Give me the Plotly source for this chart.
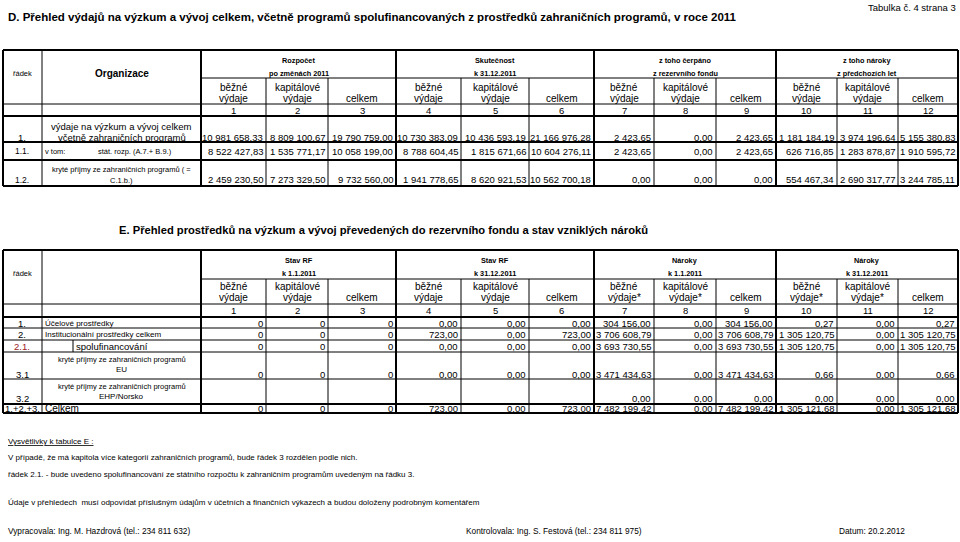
import plotly.graph_objects as go

# ---------------- data ----------------
title_d = ("D. Přehled výdajů na výzkum a vývoj celkem, včetně programů spolufinancovaných "
           "z prostředků zahraničních programů, v roce 2011")
page_label = "Tabulka č. 4 strana 3"
title_e = ("E. Přehled prostředků na výzkum a vývoj převedených do rezervního fondu "
           "a stav vzniklých nároků")

d_groups = [("Rozpočet", "po změnách 2011"), ("Skutečnost", "k 31.12.2011"),
            ("z toho čerpáno", "z rezervního fondu"), ("z toho nároky", "z předchozích let")]
e_groups = [("Stav RF", "k 1.1.2011"), ("Stav RF", "k 31.12.2011"),
            ("Nároky", "k 1.1.2011"), ("Nároky", "k 31.12.2011")]
d_sub = [("běžné", "výdaje"), ("kapitálové", "výdaje"), ("", "celkem")]
e_sub_a = [("běžné", "výdaje"), ("kapitálové", "výdaje"), ("", "celkem")]
e_sub_b = [("běžné", "výdaje*"), ("kapitálové", "výdaje*"), ("", "celkem")]
col_numbers = [str(i) for i in range(1, 13)]

d_row_ids = ["1.", "1.1.", "1.2."]
d_vals_1 = [10981658.33, 8809100.67, 19790759.00, 10730383.09, 10436593.19, 21166976.28,
            2423.65, 0.00, 2423.65, 1181184.19, 3974196.64, 5155380.83]
d_vals_11 = [8522427.83, 1535771.17, 10058199.00, 8788604.45, 1815671.66, 10604276.11,
             2423.65, 0.00, 2423.65, 626716.85, 1283878.87, 1910595.72]
d_vals_12 = [2459230.50, 7273329.50, 9732560.00, 1941778.65, 8620921.53, 10562700.18,
             0.00, 0.00, 0.00, 554467.34, 2690317.77, 3244785.11]

e_row_ids = ["1.", "2.", "2.1.", "3.1", "3.2", "1.+2.+3."]
e_labels = ["Účelové prostředky", "Institucionální prostředky celkem", "spolufinancování",
            "kryté příjmy ze zahraničních programů|EU",
            "kryté příjmy ze zahraničních programů|EHP/Norsko", "Celkem"]
e_vals_1 = [0, 0, 0, 0.00, 0.00, 0.00, 304156.00, 0.00, 304156.00, 0.27, 0.00, 0.27]
e_vals_2 = [0, 0, 0, 723.00, 0.00, 723.00, 3706608.79, 0.00, 3706608.79, 1305120.75, 0.00, 1305120.75]
e_vals_21 = [0, 0, 0, 0.00, 0.00, 0.00, 3693730.55, 0.00, 3693730.55, 1305120.75, 0.00, 1305120.75]
e_vals_31 = [0, 0, 0, 0.00, 0.00, 0.00, 3471434.63, 0.00, 3471434.63, 0.66, 0.00, 0.66]
e_vals_32 = [None, None, None, None, None, None, 0.00, 0.00, 0.00, 0.00, 0.00, 0.00]
e_vals_tot = [0, 0, 0, 723.00, 0.00, 723.00, 7482199.42, 0.00, 7482199.42, 1305121.68, 0.00, 1305121.68]

notes_head = "Vysvětlivky k tabulce E :"
notes = ["V případě, že má kapitola více kategorií zahraničních programů, bude řádek 3 rozdělen podle nich.",
         "řádek 2.1. - bude uvedeno spolufinancování ze státního rozpočtu k zahraničním programům uvedeným na řádku 3."]
note_bottom = "Údaje v přehledech  musí odpovídat příslušným údajům v účetních a finančních výkazech a budou doloženy podrobným komentářem"
sign_1 = "Vypracovala: Ing. M. Hazdrová (tel.: 234 811 632)"
sign_2 = "Kontrolovala: Ing. S. Festová (tel.: 234 811 975)"
sign_3 = "Datum: 20.2.2012"

# ---------------- layout constants ----------------
W, H = 960, 542
FONT = "Liberation Sans, Arial, sans-serif"
COL = [3, 42, 201, 266, 328, 396, 461, 529, 594, 654, 716, 776, 837, 898, 958]
GROUP_EDGES = [201, 396, 594, 776, 958]
THICK, THIN = 2, 1

shapes = []
annots = []


def hline(x0, x1, y, w=THIN):
    shapes.append(dict(type="line", xref="x", yref="y", x0=x0, x1=x1, y0=y, y1=y,
                       line=dict(color="black", width=w)))


def vline(x, y0, y1, w=THIN):
    shapes.append(dict(type="line", xref="x", yref="y", x0=x, x1=x, y0=y0, y1=y1,
                       line=dict(color="black", width=w)))


def text(x, y, s, size=9.5, anchor="center", bold=False, color="black"):
    if bold:
        s = "<b>" + s + "</b>"
    annots.append(dict(x=x, y=y, xref="x", yref="y", text=s, showarrow=False,
                       xanchor=anchor, yanchor="middle", borderpad=0,
                       font=dict(family=FONT, size=size, color=color)))


def fmt(v, dec=2):
    if v is None:
        return ""
    s = f"{v:,.{dec}f}"
    return s.replace(",", " ").replace(".", ",")


def cell_center(i):
    return (COL[i + 2] + COL[i + 3]) / 2


def table_frame(top, grp, sub, num, row_edges, bottom, thick_rows):
    hline(COL[0], COL[-1], top, THICK)
    hline(COL[0], COL[-1], bottom, THICK)
    vline(COL[0], top, bottom, THICK)
    vline(COL[-1], top, bottom, THICK)
    hline(COL[2], COL[-1], grp, THIN)
    hline(COL[0], COL[-1], sub, THIN)
    hline(COL[0], COL[-1], num, THICK)
    for k, y in enumerate(row_edges):
        hline(COL[0], COL[-1], y, THICK if k in thick_rows else THIN)
    vline(COL[1], top, bottom, THIN)
    for x in COL[2:-1]:
        if x in GROUP_EDGES:
            vline(x, top, bottom, THICK)
        else:
            vline(x, grp, bottom, THIN)


def headers(groups, subs_for_group, y_g1, y_g2, y_s1, y_s2, y_num):
    for g, (a, b) in enumerate(groups):
        cx = (GROUP_EDGES[g] + GROUP_EDGES[g + 1]) / 2
        text(cx, y_g1, a, 7.3, bold=True)
        text(cx, y_g2, b, 7.3, bold=True)
        subs = subs_for_group(g)
        for j, (s1, s2) in enumerate(subs):
            i = g * 3 + j
            if s1:
                text(cell_center(i), y_s1, s1, 10)
            text(cell_center(i), y_s2, s2, 10)
    for i, n in enumerate(col_numbers):
        text(cell_center(i), y_num, n, 9.5)


def values(vals, y, decs=None):
    for i, v in enumerate(vals):
        d = decs[i] if decs else 2
        text(COL[i + 3] - 2, y, fmt(v, d), 9.5, anchor="right")


# ---------------- Titles ----------------
text(7, 17, title_d, 11.5, anchor="left", bold=True)
text(957, 7, page_label, 9.5, anchor="right")

# ---------------- Table D ----------------
table_frame(50, 78, 104, 116, [142, 160], 186, thick_rows=[0, 1])
text(22, 73, "řádek", 7.5)
text((COL[1] + COL[2]) / 2, 73, "Organizace", 10, bold=True)
headers(d_groups, lambda g: d_sub, 60, 73, 87, 98, 110)

text(22, 137, d_row_ids[0], 9.5)
text((COL[1] + COL[2]) / 2, 126, "výdaje na výzkum a vývoj celkem", 9.5)
text((COL[1] + COL[2]) / 2, 137, "včetně zahraničních programů", 9.5)
values(d_vals_1, 137)

text(22, 151, d_row_ids[1], 8.5)
text(44, 151, "v tom:", 7.5, anchor="left")
text(97, 151, "stát. rozp. (A.7.+ B.9.)", 7.5, anchor="left")
values(d_vals_11, 151)

text(22, 180, d_row_ids[2], 8.5)
text((COL[1] + COL[2]) / 2, 169, "kryté příjmy ze zahraničních programů ( =", 7.5)
text((COL[1] + COL[2]) / 2, 180, "C.1.b.)", 7.5)
values(d_vals_12, 179)

# ---------------- Table E ----------------
text(118, 230, title_e, 11.2, anchor="left", bold=True)
e_rows = [317, 328, 340, 352, 379, 404]
table_frame(250, 279, 304, 317, e_rows[1:], 413, thick_rows=[4])
vline(73, 340, 352, THIN)
text(22, 273, "řádek", 7.5)
headers(e_groups, lambda g: e_sub_a if g < 2 else e_sub_b, 260, 273, 286, 297, 310.5)

e_dec = [0, 0, 0] + [2] * 9
all_e = [e_vals_1, e_vals_2, e_vals_21, e_vals_31, e_vals_32, e_vals_tot]
e_val_y = [323, 334.5, 346.5, 374, 398, 408.5]
e_lab_y = [323, 334.5, 346.5, (359, 369), (386, 396), 408.5]
for r in range(6):
    rid = e_row_ids[r]
    col = "#9b2226" if rid == "2.1." else "black"
    if rid == "1.+2.+3.":
        text(4, e_val_y[r], rid, 9.5, anchor="left")
    else:
        text(22, e_val_y[r], rid, 9.5, color=col)
    lab = e_labels[r]
    if "|" in lab:
        a, b = lab.split("|")
        text((COL[1] + COL[2]) / 2, e_lab_y[r][0], a, 7.5)
        text((COL[1] + COL[2]) / 2, e_lab_y[r][1], b, 8)
    elif rid == "2.1.":
        text(75, e_lab_y[r], lab, 9.5, anchor="left")
    elif rid == "1.+2.+3.":
        text(44, e_lab_y[r], lab, 10, anchor="left")
    else:
        text(44, e_lab_y[r], lab, 8, anchor="left")
    values(all_e[r], e_val_y[r], e_dec)

# ---------------- Notes ----------------
text(7, 441, "<u>" + notes_head + "</u>", 8, anchor="left")
text(7, 457, notes[0], 8, anchor="left")
text(7, 474, notes[1], 8, anchor="left")
text(7, 502, note_bottom, 8, anchor="left")
text(7, 531, sign_1, 8.3, anchor="left")
text(465, 531, sign_2, 8.3, anchor="left")
text(838, 531, sign_3, 8.3, anchor="left")

fig = go.Figure()
fig.add_trace(go.Scatter(x=[0, W], y=[0, H], mode="markers",
                         marker=dict(opacity=0), hoverinfo="skip", showlegend=False))
fig.update_layout(
    width=W, height=H, margin=dict(l=0, r=0, t=0, b=0),
    paper_bgcolor="white", plot_bgcolor="white",
    xaxis=dict(range=[0, W], visible=False, fixedrange=True),
    yaxis=dict(range=[H, 0], visible=False, fixedrange=True),
    shapes=shapes, annotations=annots, showlegend=False,
)
# remove the default 8 px body margin so figure pixels equal window pixels
fig.write_html("out.html", config={"displayModeBar": False},
               post_script="document.body.style.margin='0';document.body.style.overflow='hidden';")
